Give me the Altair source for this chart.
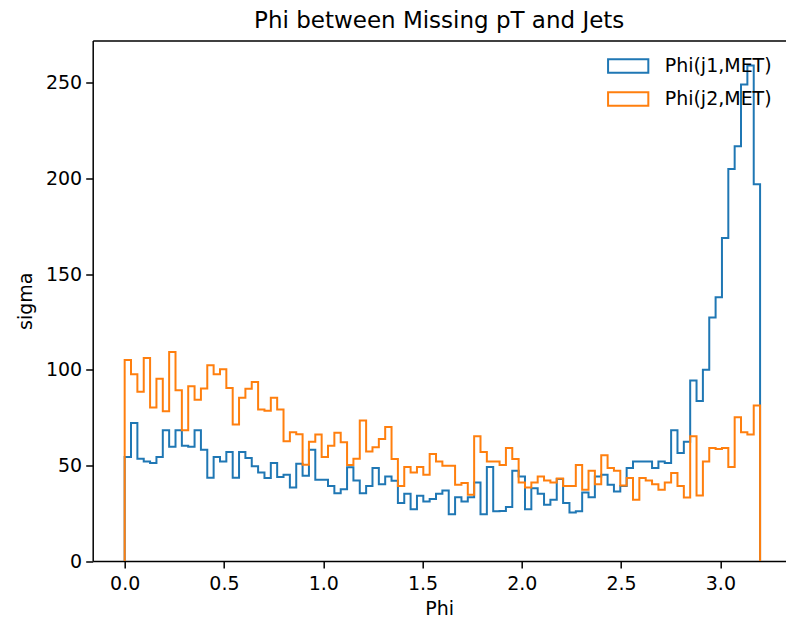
import altair as alt
import numpy as np
import pandas as pd

# ---- data (100 bins between 0 and 3.2) ----
phi_j1_met = [
    54.4, 72.2, 53.5, 52.1, 51.2, 54.4, 68.4, 59.7, 68.4, 60.3,
    59.7, 68.4, 58.2, 43.5, 54.4, 52.1, 57.0, 43.5, 57.0, 53.9,
    49.5, 46.3, 43.4, 51.2, 43.9, 45.1, 38.5, 50.9, 44.6, 58.2,
    42.5, 42.5, 39.3, 35.5, 37.6, 49.0, 42.1, 35.5, 39.3, 48.6,
    40.2, 44.2, 42.0, 30.3, 35.2, 27.1, 34.1, 31.1, 32.4, 35.2,
    36.9, 24.5, 33.4, 31.1, 33.4, 41.1, 24.5, 49.1, 26.0, 26.2,
    28.2, 47.2, 44.2, 27.1, 38.1, 35.2, 29.4, 32.0, 42.9, 30.3,
    25.4, 26.0, 35.9, 33.4, 44.2, 45.1, 39.9, 36.4, 39.3, 48.6,
    52.1, 52.1, 52.1, 48.6, 52.1, 51.2, 68.4, 56.5, 62.3, 94.4,
    83.6, 100.0, 127.3, 137.8, 168.8, 204.8, 216.8, 249.0, 259.0, 196.9,
]
phi_j2_met = [
    105.1, 97.6, 88.5, 106.1, 80.3, 95.3, 78.3, 109.3, 89.2, 68.4,
    91.3, 84.3, 90.2, 102.3, 97.6, 100.2, 90.4, 71.4, 85.4, 90.1,
    93.6, 79.2, 78.5, 85.4, 79.2, 62.6, 67.3, 66.3, 50.4, 62.3,
    66.1, 54.4, 60.3, 67.0, 62.1, 50.2, 53.5, 73.5, 57.3, 59.5,
    63.8, 70.1, 53.4, 39.3, 49.1, 46.3, 49.1, 45.1, 56.0, 52.1,
    49.8, 49.8, 39.9, 40.8, 34.6, 65.2, 57.0, 52.1, 52.1, 50.2,
    59.1, 53.4, 41.1, 38.5, 41.1, 44.2, 42.1, 41.1, 43.2, 39.3,
    39.3, 50.2, 37.3, 47.2, 40.2, 55.3, 48.6, 47.2, 39.5, 43.4,
    32.0, 43.4, 42.1, 40.2, 37.3, 41.1, 46.0, 39.3, 33.2, 65.2,
    34.3, 52.1, 59.1, 58.6, 59.1, 49.1, 75.2, 67.3, 66.1, 81.3,
]
series_names = ["Phi(j1,MET)", "Phi(j2,MET)"]
series_colors = ["#1f77b4", "#ff7f0e"]
x_ticks = [0.0, 0.5, 1.0, 1.5, 2.0, 2.5, 3.0]
y_ticks = [0, 50, 100, 150, 200, 250]
bin_lo, bin_hi, n_bins = 0.0, 3.2, 100

# ---- build step outline table (matplotlib histtype='step') ----
edges = np.linspace(bin_lo, bin_hi, n_bins + 1)
rows = []
for name, vals in zip(series_names, [phi_j1_met, phi_j2_met]):
    xs = [edges[0]] + list(edges[:-1]) + [edges[-1], edges[-1]]
    ys = [0.0] + list(vals) + [vals[-1], 0.0]
    for i, (xv, yv) in enumerate(zip(xs, ys)):
        rows.append({"series": name, "phi": float(xv), "sigma": float(yv), "idx": i})
df = pd.DataFrame(rows)

FONT = "DejaVu Sans"
x_scale = alt.Scale(domain=[-0.161, 3.329], nice=False, zero=False)
y_scale = alt.Scale(domain=[0, 272], nice=False, zero=False)

y_axis = alt.Axis(title="sigma", values=y_ticks, format="d", titlePadding=10)

lines = alt.Chart(df).mark_line(interpolate="step-after", strokeWidth=2, clip=True).encode(
    x=alt.X("phi:Q", scale=x_scale,
            axis=alt.Axis(title="Phi", values=x_ticks, format=".1f", labelPadding=6, titlePadding=6)),
    y=alt.Y("sigma:Q", scale=y_scale, axis=y_axis),
    color=alt.Color(
        "series:N",
        scale=alt.Scale(domain=series_names, range=series_colors),
        legend=alt.Legend(
            title=None,
            orient="none",
            legendX=526,
            legendY=16,
            direction="vertical",
            padding=0,
            symbolType="M-3,-1H3V1H-3Z",
            symbolSize=180,
            symbolStrokeWidth=2,
            symbolFillColor="transparent",
            labelFont=FONT,
            labelFontSize=19,
            labelColor="black",
            labelOffset=27,
            rowPadding=10,
        ),
    ),
    order="idx:Q",
)

frame_top = alt.Chart(df).mark_line(opacity=0).encode(
    x=alt.X("phi:Q", scale=x_scale,
            axis=alt.Axis(orient="top", labels=False, ticks=False, title=None, grid=False, domain=True)),
    y=alt.Y("sigma:Q", scale=y_scale, axis=y_axis),
    order="idx:Q",
)

chart = (
    alt.layer(lines, frame_top)
    .resolve_axis(x="independent")
    .properties(
        width=693,
        height=520.6,
        autosize=alt.AutoSizeParams(type="none"),
        padding={"left": 92.7, "top": 40.5, "right": 0.3, "bottom": 60},
        title=alt.TitleParams(
            "Phi between Missing pT and Jets",
            font=FONT, fontSize=23, fontWeight="normal", color="black",
            anchor="middle", baseline="alphabetic", frame="group", offset=12, dy=23,
        ),
    )
    .configure_view(stroke=None)
    .configure_axis(
        labelFont=FONT, labelFontSize=19, labelColor="black",
        titleFont=FONT, titleFontSize=19, titleColor="black", titleFontWeight="normal",
        tickColor="black", tickWidth=1.5, tickSize=7,
        domainColor="black", domainWidth=1.5,
        grid=False, labelPadding=4,
    )
)

chart.save("out.html", embed_options={"renderer": "svg", "actions": False})
